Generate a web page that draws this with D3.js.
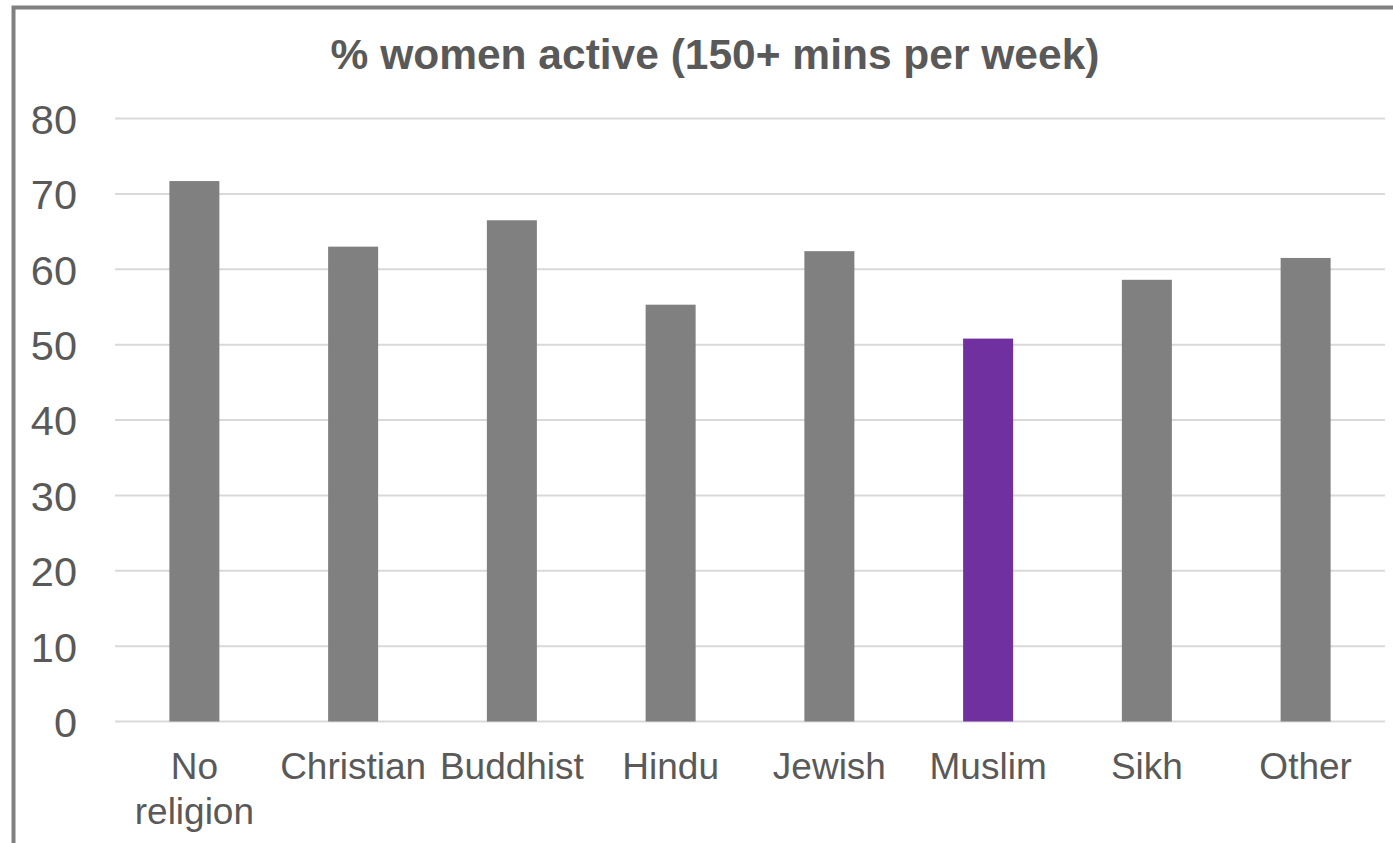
<!DOCTYPE html>
<html>
<head>
<meta charset="utf-8">
<script src="https://cdn.jsdelivr.net/npm/d3@7"></script>
<style>
  html, body { margin: 0; padding: 0; background: #fff; }
  svg { display: block; font-family: Arial, "Liberation Sans", sans-serif; }
</style>
</head>
<body>
<svg id="chart" width="1393" height="843"></svg>
<script>
const title = "% women active (150+ mins per week)";
const categories = ["No religion", "Christian", "Buddhist", "Hindu", "Jewish", "Muslim", "Sikh", "Other"];
const values = [71.7, 63.0, 66.5, 55.3, 62.4, 50.8, 58.6, 61.5];
const highlight = ["Muslim"];
const yTicks = [0, 10, 20, 30, 40, 50, 60, 70, 80];

const svg = d3.select("#chart");
const W = 1393, H = 843;
const margin = { left: 115, right: 8, top: 118.5, bottom: 121.5 };

// outer chart border (extends beyond the right and bottom edges)
svg.append("rect")
  .attr("x", 13.5).attr("y", 7.5)
  .attr("width", W + 20).attr("height", H + 20)
  .attr("fill", "none").attr("stroke", "#808080").attr("stroke-width", 4);

const x = d3.scaleBand()
  .domain(categories)
  .range([margin.left, W - margin.right])
  .paddingInner(0.685).paddingOuter(0.3425);

const y = d3.scaleLinear()
  .domain([0, 80])
  .range([H - margin.bottom, margin.top]);

// gridlines
svg.append("g")
  .selectAll("line")
  .data(yTicks)
  .join("line")
  .attr("x1", margin.left).attr("x2", W - margin.right)
  .attr("y1", d => y(d)).attr("y2", d => y(d))
  .attr("stroke", "#d9d9d9").attr("stroke-width", 2);

// y axis labels
const yAxis = d3.axisLeft(y).tickValues(yTicks).tickSize(0).tickPadding(0);
const yg = svg.append("g").attr("transform", `translate(77,0)`).call(yAxis);
yg.select(".domain").remove();
yg.selectAll("text")
  .attr("fill", "#595959")
  .style("font-size", "41.5px")
  .attr("dy", "0.36em");

// bars
svg.append("g")
  .selectAll("rect")
  .data(categories)
  .join("rect")
  .attr("x", d => x(d))
  .attr("width", x.bandwidth())
  .attr("y", (d, i) => y(values[i]))
  .attr("height", (d, i) => y(0) - y(values[i]))
  .attr("fill", d => highlight.includes(d) ? "#7030A0" : "#808080");

// x labels
const xAxis = d3.axisBottom(x).tickSize(0).tickPadding(0);
const xg = svg.append("g").attr("transform", `translate(0,${y(0)})`).call(xAxis);
xg.select(".domain").remove();
xg.selectAll(".tick text")
  .attr("fill", "#595959")
  .style("font-size", "37px")
  .attr("y", 0)
  .attr("dy", null)
  .each(function(d) {
    const t = d3.select(this);
    t.text(null);
    const words = d === "No religion" ? ["No", "religion"] : [d];
    words.forEach((w, i) => {
      t.append("tspan").attr("x", 0).attr("y", 57.5 + i * 44.5).text(w);
    });
  });

// title
svg.append("text")
  .attr("x", 715).attr("y", 69)
  .attr("text-anchor", "middle")
  .attr("fill", "#595959")
  .style("font-size", "42.5px")
  .style("font-weight", "bold")
  .text(title);
</script>
</body>
</html>
